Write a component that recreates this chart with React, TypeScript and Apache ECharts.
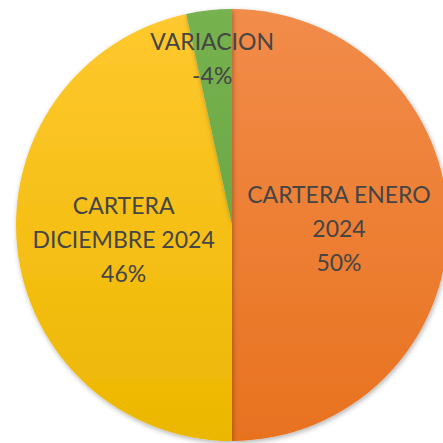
import React, { useEffect, useRef } from "react";
import * as echarts from "echarts";

const categories = ["CARTERA ENERO\n2024", "CARTERA\nDICIEMBRE 2024", "VARIACION"];
const values = [50, 46.6, 3.4];
const percentLabels = ["50%", "46%", "-4%"];

export default function App() {
  const ref = useRef<HTMLDivElement>(null);
  useEffect(() => {
    if (!ref.current) return;
    const chart = echarts.init(ref.current, null, { renderer: "svg" });
    const grad = (a: string, b: string) =>
      new echarts.graphic.LinearGradient(0, 0, 0, 1, [
        { offset: 0, color: a },
        { offset: 1, color: b },
      ]);
    const colors = [
      grad("#F28C4A", "#E8721F"),
      grad("#FFC82E", "#ECB700"),
      grad("#76B24F", "#6CA844"),
    ];
    chart.setOption({
      animation: false,
      backgroundColor: "#ffffff",
      series: [
        {
          type: "pie",
          center: [232, 225],
          radius: [0, 216],
          startAngle: 90,
          clockwise: true,
          data: categories.map((name, i) => ({
            name,
            value: values[i],
            itemStyle: { color: colors[i] },
          })),
          itemStyle: {
            shadowBlur: 5,
            shadowColor: "rgba(0,0,0,0.3)",
            shadowOffsetX: 1,
            shadowOffsetY: 2,
          },
          label: {
            show: true,
            position: "inside",
            formatter: (p: any) => `${p.name}\n${percentLabels[p.dataIndex]}`,
            color: "#454545",
            fontFamily: "Lato",
            fontSize: 23,
            lineHeight: 34,
            align: "center",
          },
          labelLayout: (p: any) => {
            if (p.dataIndex === 2) return { dx: -8, dy: -57 };
            if (p.dataIndex === 0) return { dx: -4, dy: 3 };
            if (p.dataIndex === 1) return { dx: 2, dy: 2 };
            return {};
          },
          labelLine: { show: false },
          emphasis: { disabled: true },
        },
      ],
    });
    return () => chart.dispose();
  }, []);
  return (
    <div
      ref={ref}
      style={{ position: "fixed", left: 0, top: 0, width: 443, height: 443 }}
    />
  );
}
